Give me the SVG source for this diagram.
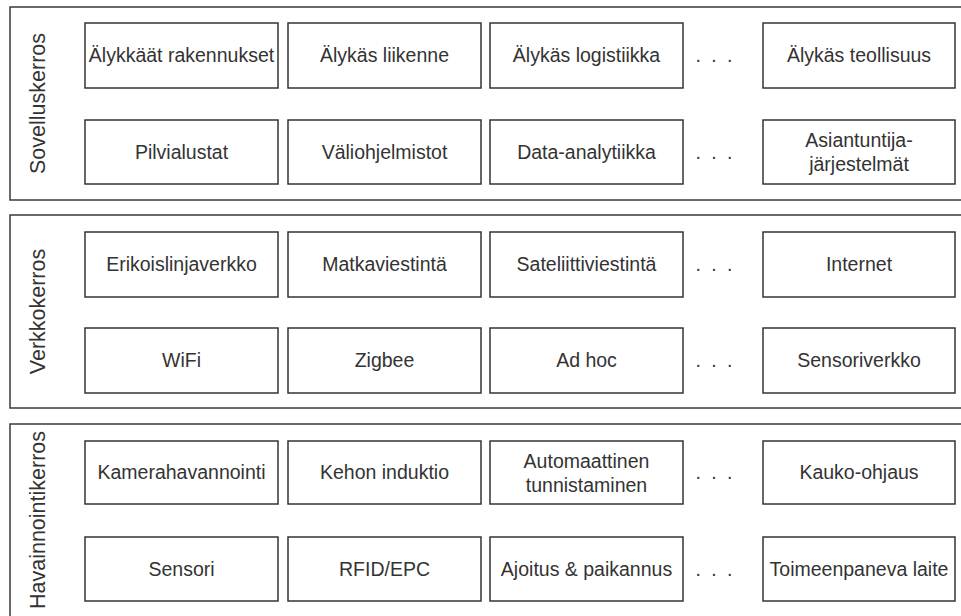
<svg xmlns="http://www.w3.org/2000/svg" width="961" height="616" viewBox="0 0 961 616">
  <style>
    .layer { fill: #ffffff; stroke: #3a3a3a; stroke-width: 1.5; }
    .box { fill: #ffffff; stroke: #333333; stroke-width: 1.5; }
    .t { font-family: "Liberation Sans", Arial, sans-serif; font-size: 19.5px; fill: #333333; text-anchor: middle; }
    .lbl { font-family: "Liberation Sans", Arial, sans-serif; font-size: 21.5px; fill: #333333; text-anchor: middle; }
    .dots { font-family: "Liberation Sans", Arial, sans-serif; font-size: 19.5px; fill: #333333; text-anchor: middle; word-spacing: 5px; }
  </style>
  <rect width="961" height="616" fill="#ffffff"/>

  <!-- Application layer -->
  <g id="layer-application">
    <rect class="layer" x="10" y="7" width="970" height="193"/>
    <text class="lbl" transform="translate(37,103.5) rotate(-90)" dy="0.35em">Sovelluskerros</text>
  </g>
  <g id="n-buildings"><rect class="box" x="85" y="23" width="193" height="65"/><text class="t" x="181.5" y="55.5" dy="0.35em">Älykkäät rakennukset</text></g>
  <g id="n-traffic"><rect class="box" x="288" y="23" width="193" height="65"/><text class="t" x="384.5" y="55.5" dy="0.35em">Älykäs liikenne</text></g>
  <g id="n-logistics"><rect class="box" x="490" y="23" width="193" height="65"/><text class="t" x="586.5" y="55.5" dy="0.35em">Älykäs logistiikka</text></g>
  <text class="dots" x="714" y="55.5" dy="0.35em">. . .</text>
  <g id="n-industry"><rect class="box" x="763" y="23" width="192" height="65"/><text class="t" x="859" y="55.5" dy="0.35em">Älykäs teollisuus</text></g>

  <g id="n-cloud"><rect class="box" x="85" y="120" width="193" height="64"/><text class="t" x="181.5" y="152" dy="0.35em">Pilvialustat</text></g>
  <g id="n-middleware"><rect class="box" x="288" y="120" width="193" height="64"/><text class="t" x="384.5" y="152" dy="0.35em">Väliohjelmistot</text></g>
  <g id="n-analytics"><rect class="box" x="490" y="120" width="193" height="64"/><text class="t" x="586.5" y="152" dy="0.35em">Data-analytiikka</text></g>
  <text class="dots" x="714" y="152" dy="0.35em">. . .</text>
  <g id="n-expert"><rect class="box" x="763" y="120" width="192" height="64"/><text class="t" x="859" y="140" dy="0.35em">Asiantuntija-</text><text class="t" x="859" y="164" dy="0.35em">järjestelmät</text></g>

  <!-- Network layer -->
  <g id="layer-network">
    <rect class="layer" x="10" y="215" width="970" height="193"/>
    <text class="lbl" transform="translate(37,311.5) rotate(-90)" dy="0.35em">Verkkokerros</text>
  </g>
  <g id="n-dedicated"><rect class="box" x="85" y="232" width="193" height="65"/><text class="t" x="181.5" y="264.5" dy="0.35em">Erikoislinjaverkko</text></g>
  <g id="n-mobile"><rect class="box" x="288" y="232" width="193" height="65"/><text class="t" x="384.5" y="264.5" dy="0.35em">Matkaviestintä</text></g>
  <g id="n-satellite"><rect class="box" x="490" y="232" width="193" height="65"/><text class="t" x="586.5" y="264.5" dy="0.35em">Sateliittiviestintä</text></g>
  <text class="dots" x="714" y="264.5" dy="0.35em">. . .</text>
  <g id="n-internet"><rect class="box" x="763" y="232" width="192" height="65"/><text class="t" x="859" y="264.5" dy="0.35em">Internet</text></g>

  <g id="n-wifi"><rect class="box" x="85" y="328" width="193" height="65"/><text class="t" x="181.5" y="360.5" dy="0.35em">WiFi</text></g>
  <g id="n-zigbee"><rect class="box" x="288" y="328" width="193" height="65"/><text class="t" x="384.5" y="360.5" dy="0.35em">Zigbee</text></g>
  <g id="n-adhoc"><rect class="box" x="490" y="328" width="193" height="65"/><text class="t" x="586.5" y="360.5" dy="0.35em">Ad hoc</text></g>
  <text class="dots" x="714" y="360.5" dy="0.35em">. . .</text>
  <g id="n-sensornet"><rect class="box" x="763" y="328" width="192" height="65"/><text class="t" x="859" y="360.5" dy="0.35em">Sensoriverkko</text></g>

  <!-- Perception layer -->
  <g id="layer-perception">
    <rect class="layer" x="10" y="424" width="970" height="200"/>
    <text class="lbl" transform="translate(37,520) rotate(-90)" dy="0.35em">Havainnointikerros</text>
  </g>
  <g id="n-camera"><rect class="box" x="85" y="441" width="193" height="63"/><text class="t" x="181.5" y="472.5" dy="0.35em">Kamerahavannointi</text></g>
  <g id="n-body"><rect class="box" x="288" y="441" width="193" height="63"/><text class="t" x="384.5" y="472.5" dy="0.35em">Kehon induktio</text></g>
  <g id="n-autoid"><rect class="box" x="490" y="441" width="193" height="63"/><text class="t" x="586.5" y="461" dy="0.35em">Automaattinen</text><text class="t" x="586.5" y="485" dy="0.35em">tunnistaminen</text></g>
  <text class="dots" x="714" y="472.5" dy="0.35em">. . .</text>
  <g id="n-remote"><rect class="box" x="763" y="441" width="192" height="63"/><text class="t" x="859" y="472.5" dy="0.35em">Kauko-ohjaus</text></g>

  <g id="n-sensor"><rect class="box" x="85" y="537" width="193" height="64"/><text class="t" x="181.5" y="569" dy="0.35em">Sensori</text></g>
  <g id="n-rfid"><rect class="box" x="288" y="537" width="193" height="64"/><text class="t" x="384.5" y="569" dy="0.35em">RFID/EPC</text></g>
  <g id="n-timing"><rect class="box" x="490" y="537" width="193" height="64"/><text class="t" x="586.5" y="569" dy="0.35em">Ajoitus &amp; paikannus</text></g>
  <text class="dots" x="714" y="569" dy="0.35em">. . .</text>
  <g id="n-actuator"><rect class="box" x="763" y="537" width="192" height="64"/><text class="t" x="859" y="569" dy="0.35em">Toimeenpaneva laite</text></g>

  <g id="connectors"/>
</svg>
